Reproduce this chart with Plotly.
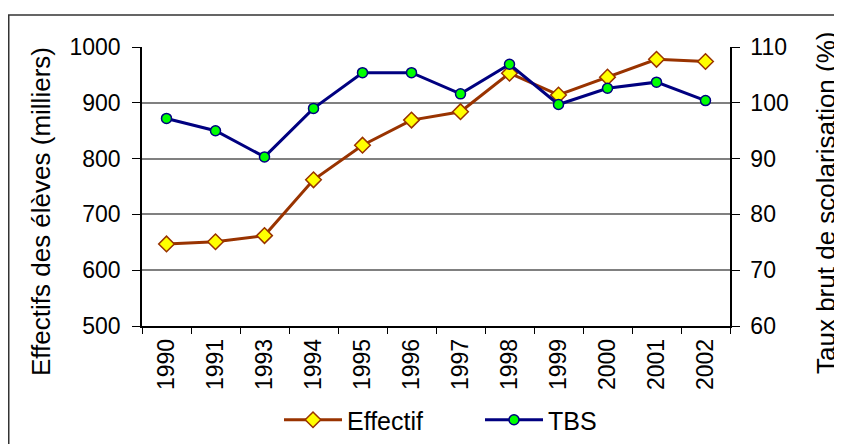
import plotly.graph_objects as go

years = ["1990", "1991", "1993", "1994", "1995", "1996", "1997", "1998", "1999", "2000", "2001", "2002"]
effectif = [647, 651, 662, 762, 824, 869, 884, 953, 914, 946, 978, 974]
tbs = [97.2, 95.0, 90.3, 99.0, 105.4, 105.4, 101.6, 106.9, 99.7, 102.6, 103.7, 100.4]

FONT = "Liberation Sans, Arial, sans-serif"
OFF = 8  # page body margin
W, H = 842 - OFF, 444 - OFF
L, R, T, B = 142 - OFF, 730 - OFF, 47 - OFF, 326 - OFF
pw, ph = R - L, B - T

def px(xs):
    return (xs - OFF - L) / pw

def py(ys):
    return (B - (ys - OFF)) / ph

fig = go.Figure()
fig.add_trace(go.Scatter(
    x=years, y=effectif, name="Effectif", mode="lines+markers",
    line=dict(color="#993300", width=3),
    marker=dict(symbol="diamond", size=12, color="#FFFF00", line=dict(color="#993300", width=1.5)),
))
fig.add_trace(go.Scatter(
    x=years, y=tbs, name="TBS", mode="lines+markers", yaxis="y2",
    line=dict(color="#000080", width=3),
    marker=dict(symbol="circle", size=10, color="#00FF00", line=dict(color="#000080", width=1.5)),
))

fig.update_layout(
    width=W, height=H,
    margin=dict(l=L, r=W - R, t=T, b=H - B, pad=0, autoexpand=False),
    paper_bgcolor="white", plot_bgcolor="white",
    font=dict(family=FONT, size=23, color="black"),
    showlegend=True,
    legend=dict(orientation="h", x=px(279), y=py(420), xanchor="left", yanchor="middle",
                font=dict(size=25), itemwidth=58, entrywidth=128, entrywidthmode="pixels",
                bgcolor="rgba(0,0,0,0)"),
    xaxis=dict(
        type="category", range=[-0.5, len(years) - 0.5], tickangle=-90, tickfont=dict(size=23),
        automargin=False,
        showline=True, linecolor="black", linewidth=1.5, mirror=False,
        ticks="outside", ticklen=6, tickcolor="black", tickwidth=1,
        tickson="boundaries", showgrid=False, zeroline=False, ticklabelstandoff=2,
    ),
    yaxis=dict(
        range=[500, 1000], dtick=100, tickfont=dict(size=23), automargin=False,
        showline=True, linecolor="black", linewidth=1.5,
        ticks="outside", ticklen=8, tickcolor="black",
        showgrid=True, gridcolor="#808080", gridwidth=1.5, zeroline=False,
        ticklabelstandoff=7,
    ),
    yaxis2=dict(
        range=[60, 110], dtick=10, overlaying="y", side="right", tickfont=dict(size=23),
        automargin=False,
        showline=True, linecolor="black", linewidth=1.5,
        ticks="outside", ticklen=8, tickcolor="black",
        showgrid=False, zeroline=False, ticklabelstandoff=6,
    ),
    shapes=[dict(type="rect", xref="paper", yref="paper",
                 x0=px(OFF + 0.75), x1=px(900), y0=py(500), y1=py(15),
                 line=dict(color="#333333", width=1.5), fillcolor="rgba(0,0,0,0)", layer="below")],
    annotations=[
        dict(text="Effectifs des élèves (milliers)", textangle=-90, xref="paper", yref="paper",
             x=px(41), y=py(212), xanchor="center", yanchor="middle", showarrow=False,
             font=dict(size=26)),
        dict(text="Taux brut de scolarisation (%)", textangle=-90, xref="paper", yref="paper",
             x=px(826), y=py(203), xanchor="center", yanchor="middle", showarrow=False,
             font=dict(size=26)),
    ],
)

fig.write_html("out.html")
